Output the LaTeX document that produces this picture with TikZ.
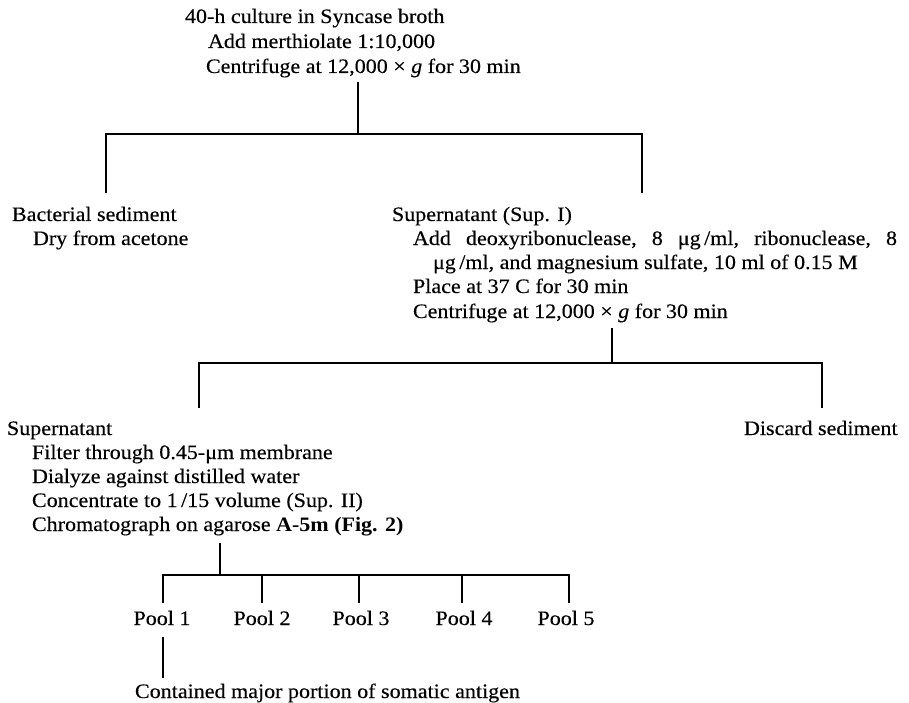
\documentclass[tikz,border=0pt]{standalone}
\usepackage{fontspec}
\setmainfont{Liberation Serif}[FakeStretch=1.075,UprightFeatures={FakeBold=0.3},ItalicFeatures={FakeBold=0.3}]
\begin{document}
\begin{tikzpicture}[x=1pt,y=-1pt,
  txt/.style={anchor=base west,inner sep=0pt,outer sep=0pt,font=\fontsize{20.5}{24}\selectfont},
  ctxt/.style={anchor=base,inner sep=0pt,outer sep=0pt,font=\fontsize{20.5}{24}\selectfont},
  tree/.style={line width=2pt,line join=miter}]
\useasboundingbox (0,0) rectangle (909,703);

% top block
\node[txt] (t1) at (185,23) {40-h culture in Syncase broth};
\node[txt] (t2) at (208,48) {Add merthiolate 1:10,000};
\node[txt] (t3) at (206,73) {Centrifuge at 12,000 × \textit{g} for 30 min};

% first split
\coordinate (a0) at (358,82);
\coordinate (a1) at (358,134);
\coordinate (aL) at (106,134);
\coordinate (aR) at (642,134);
\coordinate (aLb) at (106,193);
\coordinate (aRb) at (642,193);
\draw[tree] (a0) -- (a1);
\draw[tree] (aLb) -- (aL) -- (aR) -- (aRb);

% left branch
\node[txt] (b1) at (12,221) {Bacterial sediment};
\node[txt] (b2) at (33,245) {Dry from acetone};

% right branch
\node[txt] (s1) at (392,221) {Supernatant (Sup. I)};
\node[txt] (s2) at (413,245) {\hbox to 484pt{Add\hfil\ deoxyribonuclease,\hfil\ 8\hfil\ μg\,/ml,\hfil\ ribonuclease,\hfil\ 8}};
\node[txt] (s3) at (433,269) {μg\,/ml, and magnesium sulfate, 10 ml of 0.15 M};
\node[txt] (s4) at (413,293) {Place at 37 C for 30 min};
\node[txt] (s5) at (413,318) {Centrifuge at 12,000 × \textit{g} for 30 min};

% second split
\coordinate (c0) at (612,328);
\coordinate (c1) at (612,363);
\coordinate (cL) at (199,363);
\coordinate (cR) at (822,363);
\coordinate (cLb) at (199,408);
\coordinate (cRb) at (822,408);
\draw[tree] (c0) -- (c1);
\draw[tree] (cLb) -- (cL) -- (cR) -- (cRb);

% lower left
\node[txt] (l1) at (7,435) {Supernatant};
\node[txt] (l2) at (32,459) {Filter through 0.45-μm membrane};
\node[txt] (l3) at (32,483) {Dialyze against distilled water};
\node[txt] (l4) at (32,507) {Concentrate to 1\,/15 volume (Sup. II)};
\node[txt] (l5) at (32,531) {Chromatograph on agarose \textbf{A-5m (Fig. 2)}};
\node[txt] (d1) at (744,435) {Discard sediment};

% pool split
\coordinate (p0) at (220,543);
\coordinate (p00) at (220,575);
\coordinate (h1) at (163,575);
\coordinate (h2) at (262,575);
\coordinate (h3) at (359,575);
\coordinate (h4) at (462,575);
\coordinate (h5) at (569,575);
\coordinate (v1) at (163,603);
\coordinate (v2) at (262,603);
\coordinate (v3) at (359,603);
\coordinate (v4) at (462,603);
\coordinate (v5) at (569,603);
\draw[tree] (p0) -- (p00);
\draw[tree] (v1) -- (h1) -- (h5) -- (v5);
\draw[tree] (h2) -- (v2);
\draw[tree] (h3) -- (v3);
\draw[tree] (h4) -- (v4);

\node[ctxt] (pool1) at (162,625) {Pool 1};
\node[ctxt] (pool2) at (262,625) {Pool 2};
\node[ctxt] (pool3) at (361,625) {Pool 3};
\node[ctxt] (pool4) at (464,625) {Pool 4};
\node[ctxt] (pool5) at (566,625) {Pool 5};

\coordinate (q0) at (163,637);
\coordinate (q1) at (163,678);
\draw[tree] (q0) -- (q1);
\node[txt] (f1) at (135,698) {Contained major portion of somatic antigen};
\end{tikzpicture}
\end{document}
